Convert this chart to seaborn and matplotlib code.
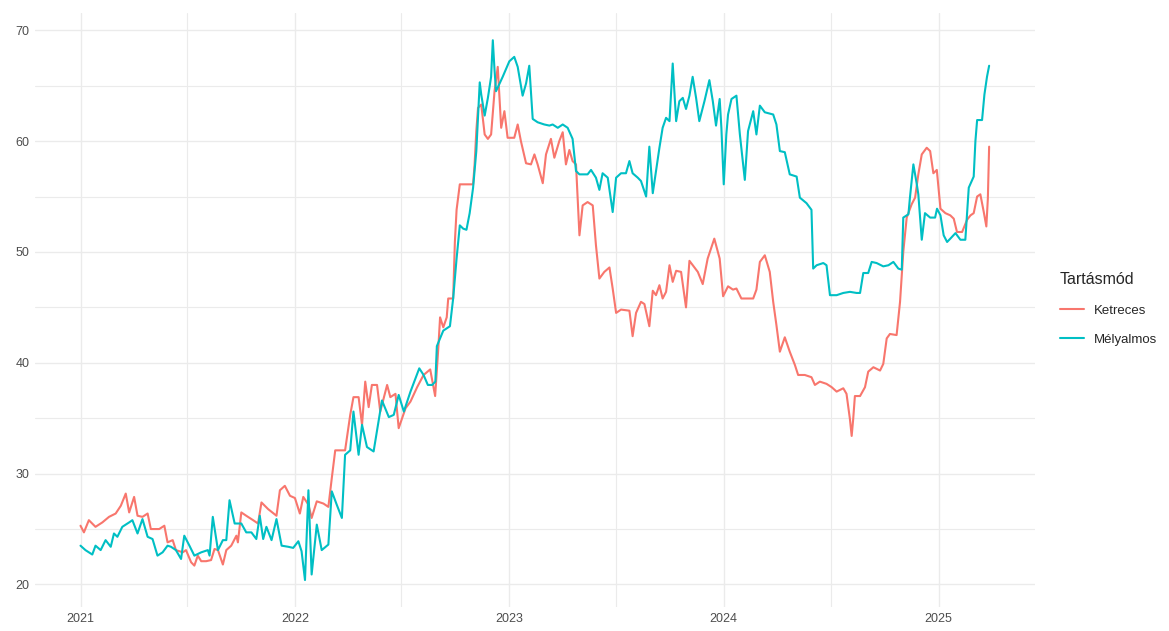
import numpy as np
import pandas as pd
import matplotlib
matplotlib.use('Agg')
from matplotlib import pyplot as plt
import matplotlib.dates as mdates
import seaborn as sns

# decimal year -> value
ketreces_t = [
    2021.000, 2021.016, 2021.039, 2021.070, 2021.102, 2021.133, 2021.164, 2021.188, 2021.211, 2021.227,
    2021.250, 2021.266, 2021.289, 2021.313, 2021.328, 2021.367, 2021.391, 2021.406, 2021.430, 2021.445,
    2021.477, 2021.492, 2021.516, 2021.531, 2021.547, 2021.563, 2021.586, 2021.609, 2021.625, 2021.641,
    2021.664, 2021.680, 2021.703, 2021.727, 2021.734, 2021.750, 2021.773, 2021.805, 2021.828, 2021.844,
    2021.875, 2021.914, 2021.930, 2021.953, 2021.977, 2022.000, 2022.023, 2022.039, 2022.063, 2022.078,
    2022.102, 2022.133, 2022.156, 2022.172, 2022.188, 2022.234, 2022.258, 2022.273, 2022.297, 2022.313,
    2022.328, 2022.344, 2022.359, 2022.383, 2022.398, 2022.430, 2022.445, 2022.469, 2022.484, 2022.516,
    2022.539, 2022.570, 2022.600, 2022.631, 2022.654, 2022.669, 2022.677, 2022.692, 2022.708, 2022.715,
    2022.738, 2022.746, 2022.754, 2022.769, 2022.831, 2022.838, 2022.846, 2022.854, 2022.869, 2022.885,
    2022.900, 2022.915, 2022.931, 2022.946, 2022.962, 2022.977, 2022.992, 2023.023, 2023.039, 2023.054,
    2023.078, 2023.101, 2023.117, 2023.132, 2023.156, 2023.171, 2023.194, 2023.210, 2023.233, 2023.249,
    2023.264, 2023.280, 2023.295, 2023.311, 2023.327, 2023.342, 2023.365, 2023.389, 2023.404, 2023.420,
    2023.443, 2023.467, 2023.482, 2023.498, 2023.521, 2023.560, 2023.575, 2023.591, 2023.614, 2023.630,
    2023.653, 2023.669, 2023.684, 2023.700, 2023.715, 2023.731, 2023.747, 2023.762, 2023.778, 2023.801,
    2023.824, 2023.840, 2023.879, 2023.902, 2023.925, 2023.956, 2023.981, 2023.997, 2024.020, 2024.043,
    2024.059, 2024.082, 2024.113, 2024.137, 2024.152, 2024.168, 2024.191, 2024.214, 2024.230, 2024.245,
    2024.261, 2024.284, 2024.307, 2024.331, 2024.346, 2024.377, 2024.408, 2024.424, 2024.447, 2024.478,
    2024.502, 2024.525, 2024.556, 2024.571, 2024.587, 2024.595, 2024.602, 2024.610, 2024.634, 2024.657,
    2024.672, 2024.696, 2024.727, 2024.742, 2024.758, 2024.773, 2024.804, 2024.820, 2024.835, 2024.851,
    2024.874, 2024.890, 2024.905, 2024.921, 2024.944, 2024.960, 2024.975, 2024.991, 2025.008, 2025.031,
    2025.054, 2025.070, 2025.085, 2025.109, 2025.132, 2025.148, 2025.163, 2025.179, 2025.194, 2025.210,
    2025.222, 2025.229, 2025.235,
]
ketreces_v = [
    25.3, 24.7, 25.8, 25.2, 25.6, 26.1, 26.4, 27.1, 28.2, 26.5,
    27.9, 26.2, 26.1, 26.4, 25.0, 25.0, 25.3, 23.8, 24.0, 23.1,
    22.9, 23.1, 22.0, 21.7, 22.6, 22.1, 22.1, 22.2, 23.2, 23.1,
    21.8, 23.1, 23.5, 24.4, 23.8, 26.5, 26.2, 25.8, 25.5, 27.4,
    26.8, 26.2, 28.5, 28.9, 28.0, 27.8, 26.4, 27.9, 27.2, 26.0,
    27.5, 27.3, 27.0, 29.6, 32.1, 32.1, 35.3, 36.9, 36.9, 34.4,
    38.3, 36.0, 38.0, 38.0, 35.6, 38.0, 36.9, 37.2, 34.1, 35.9,
    36.5, 37.8, 38.9, 39.4, 37.0, 41.4, 44.1, 43.2, 44.1, 45.8,
    45.8, 50.9, 53.8, 56.1, 56.1, 57.9, 60.9, 63.0, 63.3, 60.6,
    60.2, 60.6, 64.5, 66.7, 61.2, 62.7, 60.3, 60.3, 61.5, 60.0,
    58.0, 57.9, 58.8, 57.9, 56.2, 58.8, 60.2, 58.5, 60.0, 60.8,
    57.9, 59.2, 58.2, 57.9, 51.5, 54.2, 54.5, 54.2, 50.6, 47.6,
    48.2, 48.6, 46.7, 44.5, 44.8, 44.7, 42.4, 44.5, 45.5, 45.3,
    43.3, 46.5, 46.1, 47.0, 45.8, 46.4, 48.8, 47.3, 48.3, 48.2,
    45.0, 49.2, 48.2, 47.1, 49.4, 51.2, 49.4, 46.0, 46.9, 46.6,
    46.7, 45.8, 45.8, 45.8, 46.6, 49.1, 49.7, 48.2, 45.5, 43.4,
    41.0, 42.3, 41.0, 39.8, 38.9, 38.9, 38.7, 38.0, 38.3, 38.1,
    37.8, 37.4, 37.7, 37.2, 34.9, 33.4, 34.9, 37.0, 37.0, 37.8,
    39.2, 39.6, 39.3, 39.9, 42.2, 42.6, 42.5, 45.5, 50.0, 53.1,
    54.3, 54.9, 57.0, 58.8, 59.4, 59.1, 57.1, 57.4, 53.9, 53.5,
    53.3, 53.0, 51.8, 51.8, 52.9, 53.3, 53.5, 55.0, 55.2, 53.6,
    52.3, 54.8, 59.5,
]

melyalmos_t = [
    2021.000, 2021.023, 2021.055, 2021.070, 2021.094, 2021.117, 2021.141, 2021.156, 2021.172, 2021.195,
    2021.227, 2021.242, 2021.266, 2021.289, 2021.313, 2021.336, 2021.359, 2021.383, 2021.406, 2021.422,
    2021.445, 2021.469, 2021.484, 2021.508, 2021.531, 2021.563, 2021.594, 2021.602, 2021.617, 2021.641,
    2021.664, 2021.680, 2021.695, 2021.719, 2021.750, 2021.773, 2021.797, 2021.820, 2021.836, 2021.852,
    2021.867, 2021.891, 2021.914, 2021.938, 2021.969, 2021.992, 2022.016, 2022.031, 2022.047, 2022.063,
    2022.078, 2022.102, 2022.125, 2022.156, 2022.172, 2022.195, 2022.219, 2022.234, 2022.258, 2022.273,
    2022.297, 2022.313, 2022.336, 2022.367, 2022.406, 2022.438, 2022.461, 2022.484, 2022.508, 2022.539,
    2022.580, 2022.600, 2022.620, 2022.640, 2022.655, 2022.662, 2022.692, 2022.723, 2022.738, 2022.754,
    2022.769, 2022.785, 2022.800, 2022.815, 2022.831, 2022.846, 2022.862, 2022.869, 2022.885, 2022.900,
    2022.915, 2022.923, 2022.931, 2022.938, 2022.969, 2023.000, 2023.023, 2023.039, 2023.062, 2023.078,
    2023.093, 2023.109, 2023.132, 2023.163, 2023.187, 2023.202, 2023.226, 2023.249, 2023.272, 2023.295,
    2023.311, 2023.327, 2023.365, 2023.381, 2023.404, 2023.420, 2023.435, 2023.459, 2023.482, 2023.498,
    2023.521, 2023.544, 2023.560, 2023.575, 2023.599, 2023.614, 2023.638, 2023.653, 2023.669, 2023.684,
    2023.700, 2023.715, 2023.731, 2023.747, 2023.762, 2023.778, 2023.793, 2023.809, 2023.824, 2023.840,
    2023.855, 2023.871, 2023.886, 2023.910, 2023.933, 2023.949, 2023.964, 2023.981, 2023.989, 2024.000,
    2024.012, 2024.020, 2024.036, 2024.059, 2024.075, 2024.090, 2024.098, 2024.113, 2024.137, 2024.152,
    2024.168, 2024.191, 2024.230, 2024.245, 2024.261, 2024.284, 2024.307, 2024.339, 2024.354, 2024.385,
    2024.408, 2024.416, 2024.432, 2024.463, 2024.478, 2024.494, 2024.525, 2024.556, 2024.587, 2024.618,
    2024.634, 2024.649, 2024.672, 2024.688, 2024.711, 2024.742, 2024.766, 2024.789, 2024.812, 2024.828,
    2024.835, 2024.859, 2024.866, 2024.882, 2024.898, 2024.905, 2024.921, 2024.936, 2024.960, 2024.983,
    2024.992, 2025.008, 2025.023, 2025.039, 2025.054, 2025.078, 2025.101, 2025.124, 2025.140, 2025.163,
    2025.171, 2025.179, 2025.202, 2025.213, 2025.225, 2025.235,
]
melyalmos_v = [
    23.5, 23.1, 22.7, 23.5, 23.1, 24.0, 23.4, 24.6, 24.3, 25.2,
    25.6, 25.8, 24.6, 25.9, 24.3, 24.1, 22.6, 22.9, 23.5, 23.4,
    23.1, 22.3, 24.4, 23.5, 22.6, 22.9, 23.1, 22.6, 26.1, 23.1,
    24.0, 24.0, 27.6, 25.5, 25.5, 24.7, 24.7, 24.1, 26.2, 24.1,
    25.2, 24.0, 25.9, 23.5, 23.4, 23.3, 23.9, 23.0, 20.4, 28.5,
    20.9, 25.4, 23.1, 23.6, 28.4, 27.2, 26.0, 31.7, 32.1, 35.6,
    31.7, 34.4, 32.4, 32.0, 36.6, 35.1, 35.3, 37.1, 35.6, 37.4,
    39.5, 38.9, 38.0, 38.0, 38.3, 41.5, 42.9, 43.3, 45.8, 49.4,
    52.4, 52.1, 52.0, 53.5, 55.8, 59.1, 65.3, 64.2, 62.3, 63.9,
    65.8, 69.1, 66.4, 64.5, 65.8, 67.2, 67.6, 66.7, 64.1, 65.2,
    66.8, 62.0, 61.7, 61.5, 61.4, 61.5, 61.2, 61.5, 61.2, 60.2,
    57.3, 57.0, 57.0, 57.4, 56.7, 55.6, 57.1, 56.7, 53.6, 56.7,
    57.1, 57.1, 58.2, 57.1, 56.7, 56.4, 55.0, 59.5, 55.3, 57.3,
    59.4, 61.2, 62.1, 61.8, 67.0, 61.8, 63.6, 63.9, 62.9, 64.1,
    65.8, 63.9, 61.8, 63.6, 65.5, 63.6, 61.4, 63.8, 61.2, 56.1,
    60.6, 62.4, 63.8, 64.1, 60.6, 57.9, 56.5, 60.9, 62.7, 60.6,
    63.2, 62.6, 62.4, 61.5, 59.1, 59.0, 57.0, 56.8, 54.9, 54.4,
    53.8, 48.5, 48.8, 49.0, 48.8, 46.1, 46.1, 46.3, 46.4, 46.3,
    46.3, 48.1, 48.1, 49.1, 49.0, 48.7, 48.8, 49.1, 48.5, 48.4,
    53.1, 53.4, 54.9, 57.9, 56.1, 55.2, 51.1, 53.5, 53.1, 53.1,
    53.9, 53.3, 51.5, 50.9, 51.2, 51.7, 51.1, 51.1, 55.8, 56.8,
    60.0, 61.9, 61.9, 64.2, 65.8, 66.8,
]

groups = ['Ketreces', 'Mélyalmos']
colors = ['#F8766D', '#00BFC4']


def to_date(t):
    y = int(np.floor(t))
    start = pd.Timestamp(year=y, month=1, day=1)
    end = pd.Timestamp(year=y + 1, month=1, day=1)
    return start + (t - y) * (end - start)


df = pd.concat([
    pd.DataFrame({'Datum': [to_date(t) for t in ketreces_t], 'Ar': ketreces_v, 'Tartásmód': groups[0]}),
    pd.DataFrame({'Datum': [to_date(t) for t in melyalmos_t], 'Ar': melyalmos_v, 'Tartásmód': groups[1]}),
], ignore_index=True)

sns.set_theme(style='white')
plt.rcParams['font.family'] = ['Liberation Sans', 'DejaVu Sans']

fig, ax = plt.subplots(figsize=(11.69, 6.31), dpi=100)
fig.subplots_adjust(left=0.030, right=0.885, top=0.979, bottom=0.038)

sns.lineplot(ax=ax, data=df, x='Datum', y='Ar', hue='Tartásmód',
             palette=dict(zip(groups, colors)), estimator=None, linewidth=1.5)

ax.margins(x=0.05, y=0.05)
ax.set_yticks([20, 30, 40, 50, 60, 70])
ax.set_yticks([25, 35, 45, 55, 65], minor=True)
ax.xaxis.set_major_locator(mdates.YearLocator())
ax.xaxis.set_major_formatter(mdates.DateFormatter('%Y'))
ax.xaxis.set_minor_locator(mdates.MonthLocator(bymonth=7))

ax.grid(True, which='major', color='#EBEBEB', linewidth=1.0)
ax.grid(True, which='minor', color='#EBEBEB', linewidth=0.8)
ax.set_axisbelow(True)
for s in ax.spines.values():
    s.set_visible(False)
ax.tick_params(axis='both', which='both', length=0, labelsize=9, labelcolor='#4D4D4D', pad=4)
ax.set_xlabel('')
ax.set_ylabel('')

handles, labels = ax.get_legend_handles_labels()
ax.legend(handles, labels, title='Tartásmód', loc='center left',
          bbox_to_anchor=(1060 / 1169, 0.51), bbox_transform=fig.transFigure,
          frameon=False, fontsize=9.5, title_fontsize=11.5, alignment='left',
          handlelength=1.8, handletextpad=0.8, labelspacing=1.3, borderpad=0, borderaxespad=0)

plt.savefig('out.png', dpi=100)
